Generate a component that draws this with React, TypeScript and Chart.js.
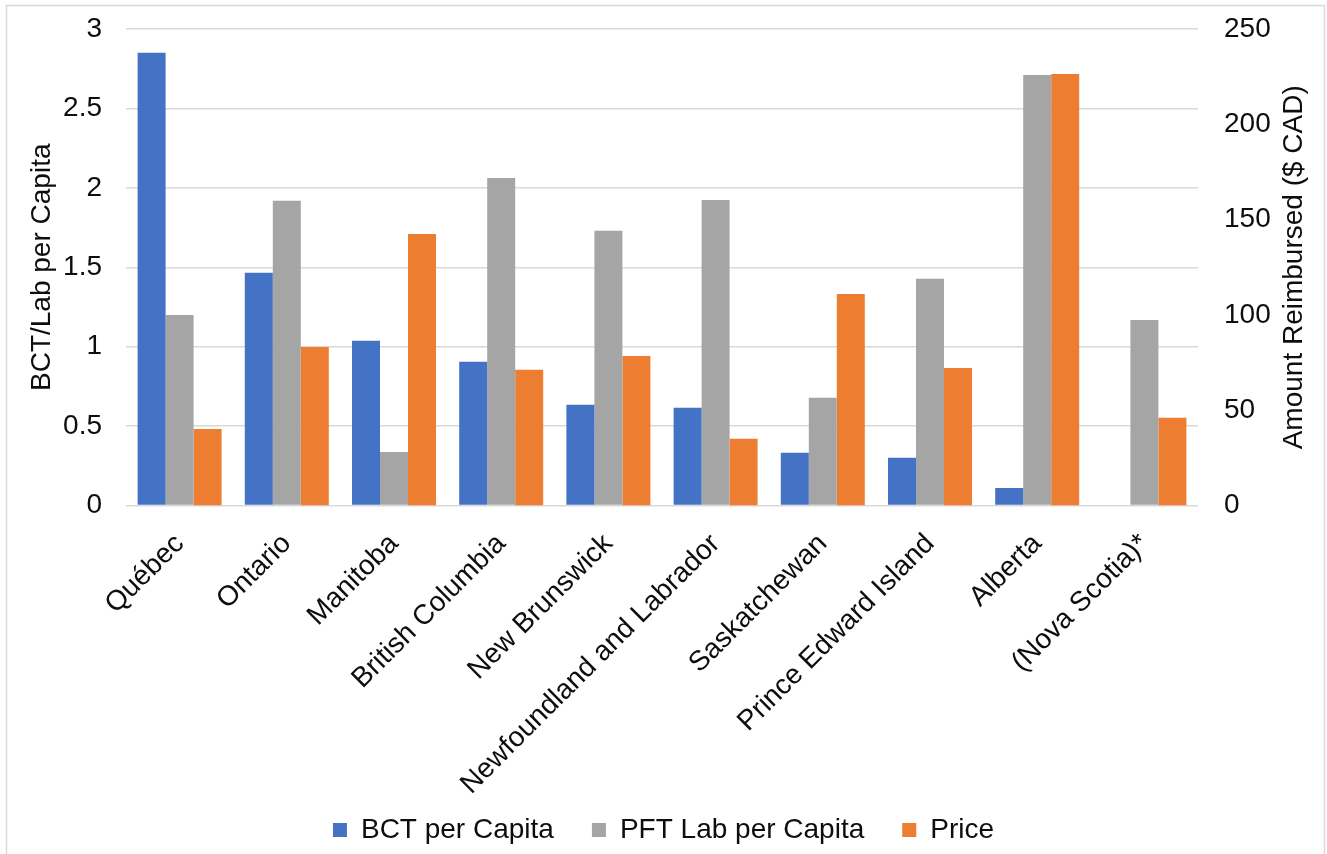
import React, { useEffect, useRef } from "react";
import { Chart, registerables } from "chart.js";

Chart.register(...registerables);

const categories = [
  "Québec",
  "Ontario",
  "Manitoba",
  "British Columbia",
  "New Brunswick",
  "Newfoundland and Labrador",
  "Saskatchewan",
  "Prince Edward Island",
  "Alberta",
  "(Nova Scotia)*",
];
const bctPerCapita = [2.85, 1.465, 1.037, 0.905, 0.634, 0.615, 0.332, 0.3, 0.11, null];
const pftLabPerCapita = [1.2, 1.918, 0.337, 2.062, 1.73, 1.924, 0.678, 1.427, 2.711, 1.168];
const price = [40.2, 83.2, 142.4, 71.2, 78.5, 35, 111, 72.2, 226.4, 46];

const leftTicks = { min: 0, max: 3, step: 0.5 };
const rightTicks = { min: 0, max: 250, step: 50 };

const FONT = '"Liberation Sans", Arial, Helvetica, sans-serif';
const TEXT = "#0d0d0d";
const GRID = "#d9d9d9";

const framePlugin = {
  id: "frame",
  afterLayout(chart: any) {
    // let the rotated category labels extend below the axis box (no clipping)
    const x = chart.scales.x;
    if (x) x.bottom = chart.height;
  },
  beforeDraw(chart: any) {
    const ctx = chart.ctx;
    ctx.save();
    ctx.fillStyle = "#ffffff";
    ctx.fillRect(0, 0, chart.width, chart.height);
    ctx.strokeStyle = GRID;
    ctx.lineWidth = 1.5;
    ctx.beginPath();
    ctx.moveTo(6.5, chart.height);
    ctx.lineTo(6.5, 5.5);
    ctx.lineTo(1324.5, 5.5);
    ctx.lineTo(1324.5, chart.height);
    ctx.stroke();
    ctx.restore();
  },
  afterDraw(chart: any) {
    const ctx = chart.ctx;
    const area = chart.chartArea;
    ctx.save();
    ctx.fillStyle = TEXT;
    ctx.font = `28px ${FONT}`;
    ctx.textAlign = "center";
    ctx.textBaseline = "middle";
    ctx.translate(1294, (area.top + area.bottom) / 2);
    ctx.rotate(-Math.PI / 2);
    ctx.fillText("Amount Reimbursed ($ CAD)", 0, 0);
    ctx.restore();
  },
};

export default function App() {
  const ref = useRef<HTMLCanvasElement | null>(null);

  useEffect(() => {
    if (!ref.current) return;
    const chart = new Chart(ref.current, {
      type: "bar",
      data: {
        labels: categories,
        datasets: [
          {
            label: "BCT per Capita",
            data: bctPerCapita,
            backgroundColor: "#4472C4",
            yAxisID: "y",
          },
          {
            label: "PFT Lab per Capita",
            data: pftLabPerCapita,
            backgroundColor: "#A5A5A5",
            yAxisID: "y",
          },
          {
            label: "Price",
            data: price,
            backgroundColor: "#ED7D31",
            yAxisID: "y1",
          },
        ],
      },
      options: {
        responsive: false,
        animation: false,
        categoryPercentage: 0.7836,
        barPercentage: 1,
        layout: { padding: { top: 29, left: 0, right: 0, bottom: 0 } },
        font: { family: FONT },
        plugins: {
          tooltip: { enabled: false },
          legend: {
            position: "bottom",
            labels: {
              font: { family: FONT, size: 28 },
              color: TEXT,
              boxWidth: 14,
              boxHeight: 14,
              padding: 38,
            },
          },
        },
        scales: {
          x: {
            grid: { display: false, drawTicks: false },
            border: { display: false },
            ticks: {
              autoSkip: false,
              maxRotation: 45,
              minRotation: 45,
              padding: 22,
              color: TEXT,
              font: { family: FONT, size: 28 },
            },
            afterFit(scale: any) {
              scale.height = 272.5;
            },
          },
          y: {
            position: "left",
            min: leftTicks.min,
            max: leftTicks.max,
            grid: { color: GRID, lineWidth: 1.5, drawTicks: false },
            border: { display: false },
            ticks: {
              stepSize: leftTicks.step,
              padding: 24,
              color: TEXT,
              font: { family: FONT, size: 28 },
              callback: (v: any) => String(Number(v)),
            },
            title: {
              display: true,
              text: "BCT/Lab per Capita",
              color: TEXT,
              font: { family: FONT, size: 28 },
              padding: { top: 25, bottom: 0 },
            },
            afterFit(scale: any) {
              scale.width = 126;
              scale.paddingTop = 0;
              scale.paddingBottom = 0;
            },
          },
          y1: {
            position: "right",
            min: rightTicks.min,
            max: rightTicks.max,
            grid: { display: false, drawTicks: false },
            border: { display: false },
            ticks: {
              stepSize: rightTicks.step,
              padding: 26,
              color: TEXT,
              font: { family: FONT, size: 28 },
              callback: (v: any) => String(Number(v)),
            },
            afterFit(scale: any) {
              scale.width = 129;
              scale.paddingTop = 0;
              scale.paddingBottom = 0;
            },
          },
        },
      },
      plugins: [framePlugin],
    });
    return () => chart.destroy();
  }, []);

  return (
    <div style={{ position: "absolute", left: 0, top: 0, width: 1327, height: 854, background: "#fff" }}>
      <canvas ref={ref} width={1327} height={854} style={{ display: "block", width: 1327, height: 854 }} />
    </div>
  );
}
